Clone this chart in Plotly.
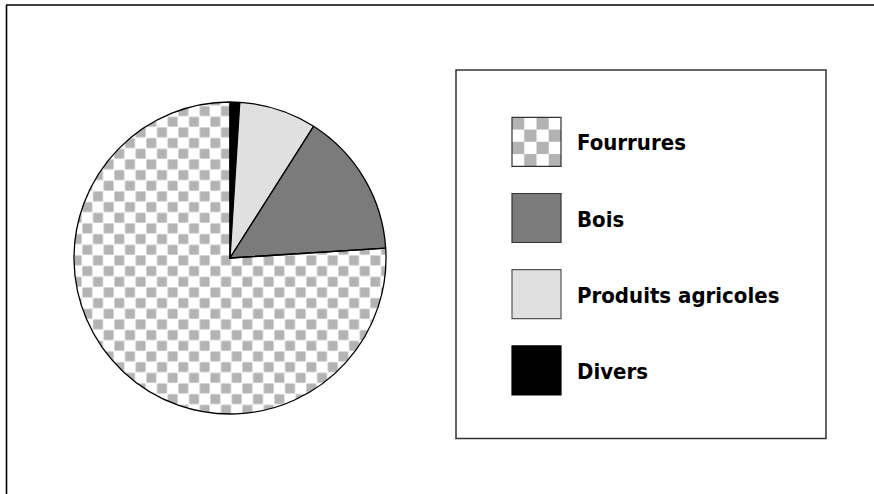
import base64
import plotly.graph_objects as go

W, H = 874, 494

# ---- data ----
categories = ["Fourrures", "Bois", "Produits agricoles", "Divers"]
values = [76, 15, 8, 1]
fill_colors = ["rgba(0,0,0,0)", "#7b7b7b", "#e0e0e0", "#000000"]
legend_fills = ["checker", "#7b7b7b", "#e0e0e0", "#000000"]
legend_borders = ["#333333", "#333333", "#555555", "#000000"]

def px(x):
    return x / W

def py(y):
    return 1 - y / H

# pie geometry (pixels)
cx, cy, r = 230, 258, 156

# slices go clockwise from 12 o'clock: Divers, Produits, Bois, Fourrures
order = list(reversed(range(len(categories))))
fig = go.Figure()
fig.add_trace(go.Pie(
    labels=[categories[i] for i in order], values=[values[i] for i in order],
    sort=False, direction="clockwise",
    rotation=0, textinfo="none", hoverinfo="label+value", showlegend=False,
    marker=dict(colors=[fill_colors[i] for i in order], line=dict(color="#000000", width=1.3)),
    domain=dict(x=[px(cx - r), px(cx + r)], y=[py(cy + r), py(cy - r)]),
))

def svg_uri(s):
    return "data:image/svg+xml;base64," + base64.b64encode(s.encode()).decode()

# checkered fill for the big slice (under the transparent slice)
size = 2 * r
sq = 10.67
ox, oy = 7.97, 14.4
pie_svg = f'''<svg xmlns="http://www.w3.org/2000/svg" width="{size}" height="{size}" viewBox="0 0 {size} {size}">
<defs><pattern id="c" patternUnits="userSpaceOnUse" width="{2*sq}" height="{2*sq}" patternTransform="translate({ox},{oy})">
<rect width="{2*sq}" height="{2*sq}" fill="#ffffff"/>
<rect x="0.4" y="0.4" width="{sq-0.8}" height="{sq-0.8}" fill="#b3b3b3"/>
<rect x="{sq+0.4}" y="{sq+0.4}" width="{sq-0.8}" height="{sq-0.8}" fill="#b3b3b3"/>
</pattern></defs>
<circle cx="{r}" cy="{r}" r="{r}" fill="url(#c)"/>
</svg>'''

images = [dict(source=svg_uri(pie_svg), xref="paper", yref="paper",
               x=px(cx - r), y=py(cy - r), sizex=size / W, sizey=size / H,
               xanchor="left", yanchor="top", sizing="stretch", layer="below")]

shapes = []
annotations = []

# frame lines
shapes.append(dict(type="line", xref="paper", yref="paper", x0=px(6), x1=px(W + 2),
                   y0=py(5), y1=py(5), line=dict(color="#000000", width=1.6)))
shapes.append(dict(type="line", xref="paper", yref="paper", x0=px(6.5), x1=px(6.5),
                   y0=py(5), y1=py(H + 2), line=dict(color="#000000", width=1.6)))

# legend box
shapes.append(dict(type="rect", xref="paper", yref="paper", x0=px(456), x1=px(826),
                   y0=py(70), y1=py(438.5), line=dict(color="#333333", width=1.5),
                   fillcolor="rgba(0,0,0,0)"))

sw_x0, sw_size = 512, 49
row_top0, row_step = 117.3, 76.2
for i, (name, fill, border) in enumerate(zip(categories, legend_fills, legend_borders)):
    y0 = row_top0 + i * row_step
    if fill == "checker":
        s = sw_size / 4
        rects = "".join(
            f'<rect x="{c*s}" y="{rr*s}" width="{s}" height="{s}" fill="#b3b3b3"/>'
            for rr in range(4) for c in range(4) if (rr + c) % 2 == 0)
        sw_svg = f'<svg xmlns="http://www.w3.org/2000/svg" width="{sw_size}" height="{sw_size}" viewBox="0 0 {sw_size} {sw_size}"><rect width="{sw_size}" height="{sw_size}" fill="#ffffff"/>{rects}</svg>'
        images.append(dict(source=svg_uri(sw_svg), xref="paper", yref="paper",
                           x=px(sw_x0), y=py(y0), sizex=sw_size / W, sizey=sw_size / H,
                           xanchor="left", yanchor="top", sizing="stretch", layer="below"))
        shapes.append(dict(type="rect", xref="paper", yref="paper", x0=px(sw_x0), x1=px(sw_x0 + sw_size),
                           y0=py(y0), y1=py(y0 + sw_size), line=dict(color=border, width=1.2),
                           fillcolor="rgba(0,0,0,0)"))
    else:
        shapes.append(dict(type="rect", xref="paper", yref="paper", x0=px(sw_x0), x1=px(sw_x0 + sw_size),
                           y0=py(y0), y1=py(y0 + sw_size), line=dict(color=border, width=1.2),
                           fillcolor=fill))
    annotations.append(dict(text=f"<b>{name}</b>", xref="paper", yref="paper",
                            x=px(575), y=py(y0 + sw_size / 2 + 1), xanchor="left", yanchor="middle",
                            showarrow=False,
                            font=dict(family="DejaVu Sans Condensed, Liberation Sans Narrow, sans-serif",
                                      size=22, color="#000000")))

fig.update_layout(
    width=W, height=H, margin=dict(l=0, r=0, t=0, b=0),
    paper_bgcolor="#ffffff", plot_bgcolor="#ffffff",
    images=images, shapes=shapes, annotations=annotations,
)

fig.write_html("out.html", config={"displayModeBar": False},
               post_script="document.body.style.margin='0';")
